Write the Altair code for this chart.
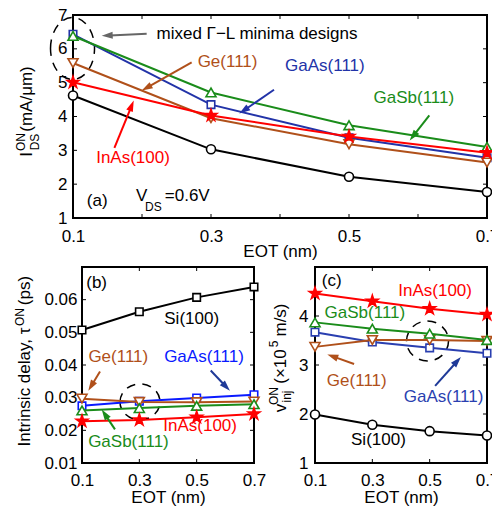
import math
import altair as alt
import pandas as pd

# ---------------- data ----------------
EOT = [0.1, 0.3, 0.5, 0.7]

# (a) on-current I_DS^ON (mA/um)
A_SI = [4.62, 3.03, 2.22, 1.77]
A_GAAS = [6.43, 4.35, 3.37, 2.78]
A_GE = [5.58, 3.95, 3.18, 2.64]
A_GASB = [6.38, 4.71, 3.74, 3.10]
A_INAS = [5.01, 4.03, 3.41, 2.93]

# (b) intrinsic delay tau^ON (ps)
B_SI = [0.0507, 0.0563, 0.0607, 0.0639]
B_GAAS = [0.0275, 0.0289, 0.0299, 0.0309]
B_GE = [0.0297, 0.0287, 0.0286, 0.0288]
B_GASB = [0.0261, 0.0268, 0.0275, 0.0280]
B_INAS = [0.0228, 0.0232, 0.0240, 0.0250]

# (c) injection velocity v_inj^ON (x1e5 m/s)
C_SI = [1.99, 1.78, 1.65, 1.56]
C_GAAS = [3.67, 3.47, 3.35, 3.24]
C_GE = [3.37, 3.51, 3.51, 3.49]
C_GASB = [3.87, 3.74, 3.64, 3.51]
C_INAS = [4.46, 4.30, 4.15, 4.03]

X_LABELS = [0.1, 0.3, 0.5, 0.7]
A_X_TICKS = [0.1, 0.2, 0.3, 0.4, 0.5, 0.6, 0.7]
A_Y_LABELS = [1, 2, 3, 4, 5, 6, 7]
B_Y_LABELS = [0.01, 0.02, 0.03, 0.04, 0.05, 0.06]
B_Y_TICKS = [0.01, 0.02, 0.03, 0.04, 0.05, 0.06, 0.07]
C_Y_LABELS = [1, 2, 3, 4]
C_Y_TICKS = [1, 2, 3, 4, 5]

# annotation labels (text, eot, value)
A_NOTES = [("Ge(111)", 0.324, 5.60), ("GaAs(111)", 0.465, 5.48), ("GaSb(111)", 0.594, 4.55),
           ("InAs(100)", 0.187, 2.78), ("(a)", 0.135, 1.50), ("V", 0.1995, 1.65)]
A_NOTES_LEFT = [("mixed Γ−L minima designs", 0.221, 6.446), ("=0.6V", 0.233, 1.65)]
A_NOTES_SMALL = [("DS", 0.2164, 1.33)]
A_ARROWS = [(0.2068, 6.446, 0.1416, 6.387), (0.272, 5.60, 0.1996, 4.765),
            (0.3913, 4.79, 0.341, 4.087), (0.6164, 4.03, 0.588, 3.29), (0.16, 3.07, 0.188, 4.47)]
A_RING = (0.0993, 6.01)

B_NOTES = [("(b)", 0.151, 0.0652), ("Si(100)", 0.4826, 0.0542), ("Ge(111)", 0.2267, 0.0424),
           ("GaAs(111)", 0.5255, 0.0426), ("InAs(100)", 0.512, 0.0213), ("GaSb(111)", 0.262, 0.0163)]
B_ARROWS = [(0.1628, 0.0380, 0.122, 0.0321), (0.549, 0.0383, 0.616, 0.0321), (0.215, 0.0203, 0.1687, 0.0264)]
B_RING = (0.3023, 0.0287)

C_NOTES = [("(c)", 0.158, 4.72), ("InAs(100)", 0.519, 4.505), ("GaSb(111)", 0.274, 4.067),
           ("Ge(111)", 0.2457, 2.67), ("GaAs(111)", 0.5484, 2.344), ("Si(100)", 0.3213, 1.46)]
C_ARROWS = [(0.2363, 3.02, 0.143, 3.216), (0.519, 2.574, 0.609, 3.163)]
C_RING = (0.4925, 3.49)

# ---------------- style ----------------
FONT = "Liberation Sans"
FS = 17
FS_S = 12
BLACK = "#000000"
RED = "#ff0000"
GREEN = "#1a8c1a"
BROWN = "#b0501a"
BLUE_A = "#2233a8"
BLUE_B = "#0a1aff"
BLUE_C = "#2a3fb0"
BLUE_DARK = "#1f3a98"
GREY = "#666666"


def star_path():
    pts = []
    for k in range(10):
        a = math.radians(-90 + 36 * k)
        r = 1.0 if k % 2 == 0 else 0.382
        pts.append(f"{r * math.cos(a):.3f},{r * math.sin(a):.3f}")
    return "M" + " L".join(pts) + " Z"


STAR = star_path()
ARROW = "M0,0 L0.32,1 L-0.32,1 Z"


def ellipse_path(rx, ry):
    a = rx / ry
    return f"M{-a:.3f},0 A{a:.3f},1 0 1,1 {a:.3f},0 A{a:.3f},1 0 1,1 {-a:.3f},0 Z"


ONE = pd.DataFrame({"k": [0]})


def panel(cfg):
    W, H = cfg["W"], cfg["H"]
    x0 = cfg.get("x0", 0)          # left edge of the frame (px, relative to the view origin)
    ydom = cfg["ydom"]
    xs = alt.Scale(domain=[0.1, 0.7], range=[x0, W], nice=False, zero=False)
    ys = alt.Scale(domain=ydom, nice=False, zero=False)
    xax = alt.Axis(values=X_LABELS, format=".1f", title="EOT (nm)", labelPadding=cfg["xlp"],
                   titlePadding=cfg["tpad"], ticks=False, domain=False, grid=False, labelFlush=False)
    yax = alt.Axis(values=cfg["ylab"], format=cfg["yfmt"], title=None, labelPadding=cfg["ylp"],
                   offset=-x0, ticks=False, domain=False, grid=False, labelFlush=False)

    def X(f):
        return alt.X(f + ":Q", scale=xs, axis=xax)

    def Y(f):
        return alt.Y(f + ":Q", scale=ys, axis=yax)

    layers = []
    # frame box
    layers.append(alt.Chart(ONE).mark_rect(fillOpacity=0, stroke=BLACK, strokeWidth=2).encode(
        x=alt.value(x0), x2=alt.value(W), y=alt.value(0), y2=alt.value(H)))
    # inward ticks on all four sides
    xt = pd.DataFrame({"t": cfg["xticks"]})
    yt = pd.DataFrame({"t": cfg["yticks"]})
    layers.append(alt.Chart(xt).mark_rule(color=BLACK, strokeWidth=1).encode(
        x=X("t"), y=alt.value(H), y2=alt.value(H - 4)))
    layers.append(alt.Chart(xt).mark_rule(color=BLACK, strokeWidth=1).encode(
        x=X("t"), y=alt.value(0), y2=alt.value(4)))
    layers.append(alt.Chart(yt).mark_rule(color=BLACK, strokeWidth=1).encode(
        y=Y("t"), x=alt.value(x0), x2=alt.value(x0 + 4)))
    layers.append(alt.Chart(yt).mark_rule(color=BLACK, strokeWidth=1).encode(
        y=Y("t"), x=alt.value(W), x2=alt.value(W - 4)))

    # dashed ring
    rx, ry = cfg["ring_r"]
    ring = pd.DataFrame({"x": [cfg["ring"][0]], "y": [cfg["ring"][1]]})
    layers.append(alt.Chart(ring).mark_point(
        shape=ellipse_path(rx, ry), size=(2 * ry) ** 2, filled=False, stroke=BLACK,
        strokeWidth=1.5, strokeDash=[9, 7], opacity=1).encode(x=X("x"), y=Y("y")))

    # series
    for vals, color, shape, size, fill in cfg["series"]:
        df = pd.DataFrame({"x": EOT, "y": vals})
        layers.append(alt.Chart(df).mark_line(color=color, strokeWidth=2).encode(x=X("x"), y=Y("y")))
        layers.append(alt.Chart(df).mark_point(
            shape=shape, size=size, filled=True, fill=fill, stroke=color, strokeWidth=1.6,
            opacity=1).encode(x=X("x"), y=Y("y")))

    # arrows
    kx = (W - x0) / 0.6
    ky = H / (ydom[1] - ydom[0])
    rows = []
    for (ax0, ay0, ax1, ay1), c in zip(cfg["arrows"], cfg["arrow_colors"]):
        dx = (ax1 - ax0) * kx
        dy = -(ay1 - ay0) * ky
        L = math.hypot(dx, dy)
        ang = math.degrees(math.atan2(dx, -dy)) % 360
        f = max(0.0, (L - 8) / L)
        rows.append(dict(x0=ax0, y0=ay0, xe=ax0 + (ax1 - ax0) * f, ye=ay0 + (ay1 - ay0) * f,
                         x1=ax1, y1=ay1, c=c, ang=ang))
    adf = pd.DataFrame(rows)
    layers.append(alt.Chart(adf).mark_rule(strokeWidth=2).encode(
        x=X("x0"), y=Y("y0"), x2="xe", y2="ye", color=alt.Color("c:N", scale=None)))
    layers.append(alt.Chart(adf).mark_point(shape=ARROW, size=484, filled=True, opacity=1,
                                            strokeWidth=0).encode(
        x=X("x1"), y=Y("y1"), angle=alt.Angle("ang:Q", scale=None), color=alt.Color("c:N", scale=None)))

    # texts
    def text_layer(items, colors, size, align):
        df = pd.DataFrame({"t": [i[0] for i in items], "x": [i[1] for i in items],
                           "y": [i[2] for i in items], "c": colors})
        return alt.Chart(df).mark_text(font=FONT, fontSize=size, align=align, baseline="middle").encode(
            x=X("x"), y=Y("y"), text="t:N", color=alt.Color("c:N", scale=None))

    layers.append(text_layer(cfg["notes"], cfg["note_colors"], FS, "center"))
    if cfg.get("notes_left"):
        layers.append(text_layer(cfg["notes_left"], [BLACK] * len(cfg["notes_left"]), FS, "left"))
    if cfg.get("notes_small"):
        layers.append(text_layer(cfg["notes_small"], [BLACK] * len(cfg["notes_small"]), FS_S, "center"))

    # rotated y-axis title pieces (with super/subscripts), offsets from the frame's left edge
    for txt, px, py, fs in cfg["ytitle"]:
        layers.append(alt.Chart(ONE).mark_text(text=txt, angle=270, font=FONT, fontSize=fs,
                                               align="center", baseline="middle", color=BLACK).encode(
            x=alt.value(x0 + px), y=alt.value(py)))

    return alt.layer(*layers).properties(width=W, height=H)


A = panel(dict(
    W=405, H=203, x0=-9, ydom=[1, 7], ylab=A_Y_LABELS, yfmt="d", ylp=6, xlp=10, tpad=-1,
    xticks=A_X_TICKS, yticks=A_Y_LABELS,
    ring=A_RING, ring_r=(22, 31),
    series=[(A_SI, BLACK, "circle", 81, "white"), (A_GAAS, BLUE_A, "square", 56, "white"),
            (A_GE, BROWN, "triangle-down", 100, "white"), (A_GASB, GREEN, "triangle-up", 100, "white"),
            (A_INAS, RED, STAR, 150, RED)],
    arrows=A_ARROWS, arrow_colors=[GREY, BROWN, BLUE_A, GREEN, RED],
    notes=A_NOTES, note_colors=[BROWN, BLUE_A, GREEN, RED, BLACK, BLACK],
    notes_left=A_NOTES_LEFT, notes_small=A_NOTES_SMALL,
    ytitle=[("(mA/μm)", -46, 84, FS), ("I", -46, 139.5, FS), ("ON", -51.8, 127, FS_S),
            ("DS", -37.8, 127, FS_S)],
))

B = panel(dict(
    W=172, H=196, ydom=[0.01, 0.07], ylab=B_Y_LABELS, yfmt=".2f", ylp=5, xlp=9, tpad=1,
    xticks=X_LABELS, yticks=B_Y_TICKS,
    ring=B_RING, ring_r=(20, 18),
    series=[(B_SI, BLACK, "square", 56, "white"), (B_GAAS, BLUE_B, "square", 56, "white"),
            (B_GE, BROWN, "triangle-down", 100, "white"), (B_GASB, GREEN, "triangle-up", 100, "white"),
            (B_INAS, RED, STAR, 150, RED)],
    arrows=B_ARROWS, arrow_colors=[BROWN, BLUE_DARK, GREEN],
    notes=B_NOTES, note_colors=[BLACK, BLACK, BROWN, BLUE_B, RED, GREEN],
    ytitle=[("Intrinsic delay, τ", -57, 120, FS), ("ON", -61.8, 50, FS_S), ("(ps)", -57, 23.5, FS)],
))

C = panel(dict(
    W=172, H=196, ydom=[1, 5], ylab=C_Y_LABELS, yfmt="d", ylp=7, xlp=9, tpad=1,
    xticks=X_LABELS, yticks=C_Y_TICKS,
    ring=C_RING, ring_r=(21, 20),
    series=[(C_SI, BLACK, "circle", 81, "white"), (C_GAAS, BLUE_C, "square", 56, "white"),
            (C_GE, BROWN, "triangle-down", 100, "white"), (C_GASB, GREEN, "triangle-up", 100, "white"),
            (C_INAS, RED, STAR, 150, RED)],
    arrows=C_ARROWS, arrow_colors=[BROWN, BLUE_DARK],
    notes=C_NOTES, note_colors=[BLACK, RED, GREEN, BROWN, BLUE_C, BLACK],
    ytitle=[("v", -34.4, 141, FS), ("ON", -41, 129, FS_S), ("inj", -28, 129.5, FS_S),
            ("(×10", -34.4, 99.5, FS), ("5", -41, 77, FS_S), ("m/s)", -34.4, 53, FS)],
))

bottom = alt.hconcat(B, C, spacing=61, bounds="flush")
chart = alt.vconcat(A, bottom, spacing=7).properties(
    padding={"left": 6, "top": -2, "right": -7, "bottom": 2}
).configure_view(stroke=None).configure_axis(
    labelFont=FONT, labelFontSize=FS, labelColor="black", titleFont=FONT, titleFontSize=FS,
    titleFontWeight="normal", titleColor="black"
)

chart.save("out.html", embed_options={"renderer": "svg", "actions": False})
